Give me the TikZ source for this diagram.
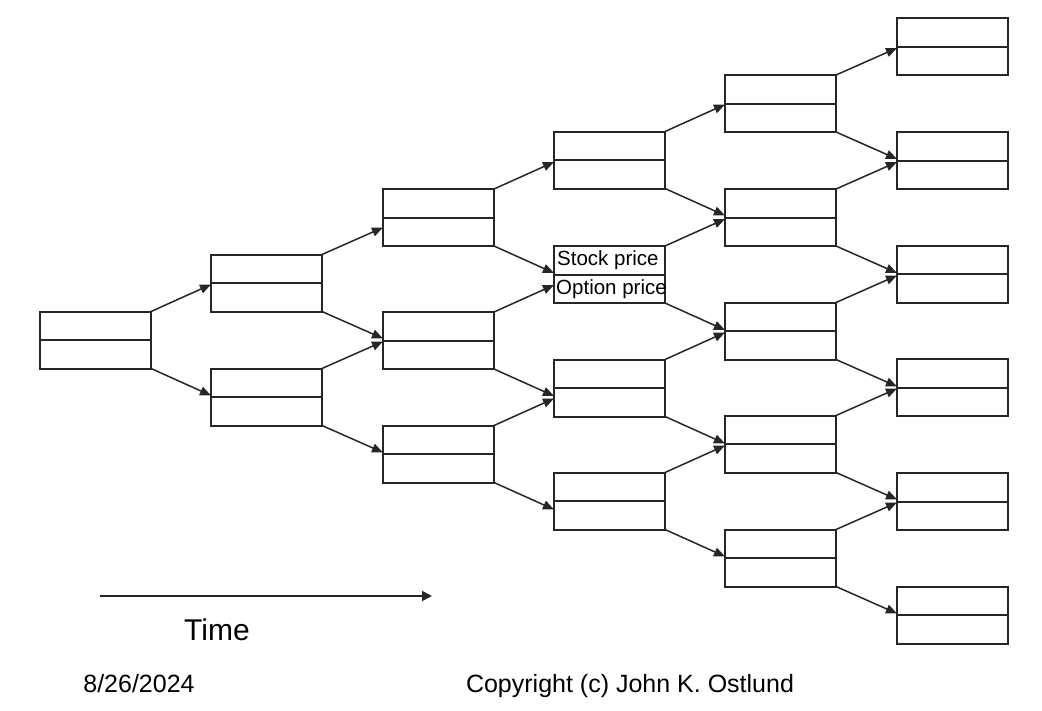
\documentclass[tikz,border=0pt]{standalone}
\usepackage{fontspec}
\setmainfont{Liberation Sans}
\usetikzlibrary{arrows.meta,calc}

\tikzset{
  cell/.style={draw=black!85, line width=2pt, minimum width=111pt, minimum height=57pt,
    inner sep=0pt, outer sep=0pt,
    path picture={\draw[black!85, line width=2pt] (path picture bounding box.west) -- (path picture bounding box.east);}},
  link/.style={draw=black!85, line width=1.5pt, -{Triangle[length=11pt,width=9pt]}},
  celltext/.style={inner sep=3pt, font=\fontsize{20.5}{24}\selectfont}
}

\begin{document}
\begin{tikzpicture}[x=1pt, y=-1pt]
    % Page of the same size as the reference
    \useasboundingbox (0,0) rectangle (1042,710);

    % Column 0
    \node[cell] (b00) at (95.5,340) {};

    % Column 1
    \node[cell] (b10) at (266.5,283) {};
    \node[cell] (b11) at (266.5,397) {};

    % Column 2
    \node[cell] (b20) at (438.5,217.5) {};
    \node[cell] (b21) at (438.5,340.5) {};
    \node[cell] (b22) at (438.5,454) {};

    % Column 3
    \node[cell] (b30) at (609.5,160) {};
    \node[cell] (b31) at (609.5,274.5) {};
    \node[cell] (b32) at (609.5,388) {};
    \node[cell] (b33) at (609.5,501) {};

    % Column 4
    \node[cell] (b40) at (780.5,103.5) {};
    \node[cell] (b41) at (780.5,217.5) {};
    \node[cell] (b42) at (780.5,331) {};
    \node[cell] (b43) at (780.5,444) {};
    \node[cell] (b44) at (780.5,558) {};

    % Column 5
    \node[cell] (b50) at (952.5,46.5) {};
    \node[cell] (b51) at (952.5,160.5) {};
    \node[cell] (b52) at (952.5,274) {};
    \node[cell] (b53) at (952.5,387.5) {};
    \node[cell] (b54) at (952.5,501.5) {};
    \node[cell] (b55) at (952.5,615) {};

    % Texts of the labelled box
    \node[celltext, anchor=west] (stock) at ($(b31.west)!0.5!(b31.north west)$) {Stock price};
    \node[celltext, anchor=west, inner sep=2pt] (option) at ($(b31.west)!0.5!(b31.south west)$) {Option price};

    % Each box to its up and down successor
    \foreach \a/\u/\d in {b00/b10/b11, b10/b20/b21, b11/b21/b22,
        b20/b30/b31, b21/b31/b32, b22/b32/b33,
        b30/b40/b41, b31/b41/b42, b32/b42/b43, b33/b43/b44,
        b40/b50/b51, b41/b51/b52, b42/b52/b53, b43/b53/b54, b44/b54/b55} {
        \draw[link] (\a.north east) -- ([yshift=27pt]\a.north east -| \u.west);
        \draw[link] (\a.south east) -- ([yshift=-27pt]\a.south east -| \d.west);
    }

    % Time axis
    \coordinate (t0) at (100,596);
    \coordinate (t1) at (432,596);
    \draw[black!85, line width=1.8pt, -{Triangle[length=10pt,width=10pt]}] (t0) -- (t1);
    \node[font=\fontsize{30}{36}\selectfont, anchor=base] (time) at (217,640) {Time};

    % Footer
    \node[font=\fontsize{25}{30}\selectfont, anchor=base] (date) at (139,692) {8/26/2024};
    \node[font=\fontsize{25}{30}\selectfont, anchor=base] (copy) at (630,692) {Copyright (c) John K. Ostlund};
\end{tikzpicture}
\end{document}
